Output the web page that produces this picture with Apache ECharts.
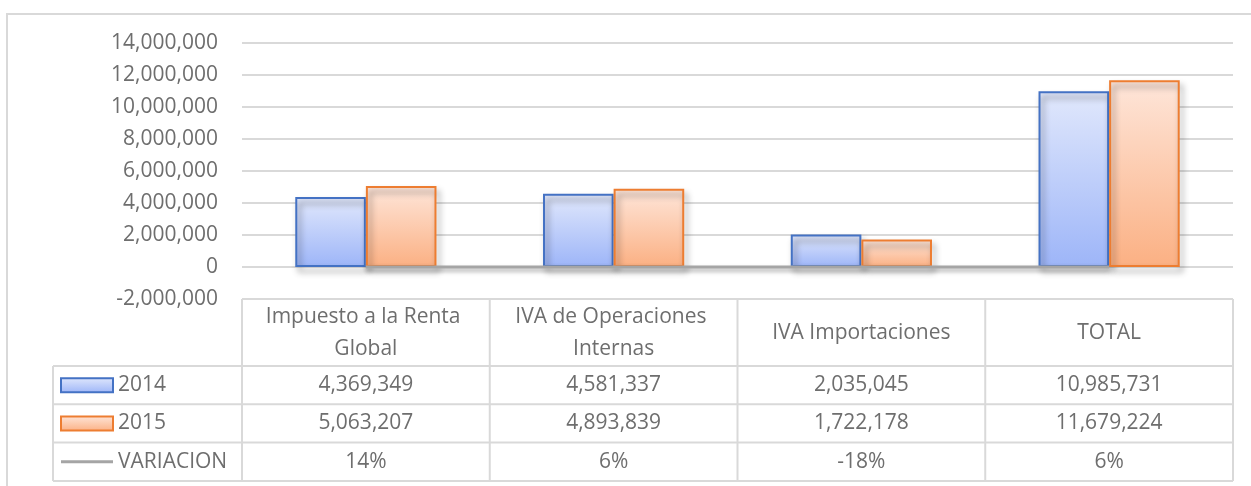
<!DOCTYPE html>
<html>
<head>
<meta charset="utf-8">
<script src="https://cdn.jsdelivr.net/npm/echarts@6/dist/echarts.min.js"></script>
<style>
  html, body { margin: 0; padding: 0; background: #fff; }
  #main { width: 1251px; height: 486px; }
</style>
</head>
<body>
<div id="main"></div>
<script>
var categories = ['Impuesto a la Renta Global', 'IVA de Operaciones Internas', 'IVA Importaciones', 'TOTAL']
var seriesNames = ['2014', '2015', 'VARIACION']
var data2014 = [4369349, 4581337, 2035045, 10985731]
var data2015 = [5063207, 4893839, 1722178, 11679224]
var variacion = [0.14, 0.06, -0.18, 0.06]

var FONT = 'Open Sans'
var TXT = '#6e6e6e'
var LINE = '#d9d9d9'

function fmt(v) {
  return v.toLocaleString('en-US')
}
function pct(v) {
  return Math.round(v * 100) + '%'
}
function grad(top, bottom) {
  return new echarts.graphic.LinearGradient(0, 0, 0, 1, [
    { offset: 0, color: top },
    { offset: 1, color: bottom }
  ])
}

var blueFill = grad('#e1e8fc', '#9db5f8')
var orangeFill = grad('#fee6da', '#fbb083')

var myChart = echarts.init(document.getElementById('main'))
var option = {
  animation: false,
  textStyle: { fontFamily: FONT },
  grid: { left: 242, right: 18, top: 43, bottom: 187 },
  xAxis: {
    type: 'category',
    data: categories,
    axisLine: { show: false },
    axisTick: { show: false },
    axisLabel: { show: false }
  },
  yAxis: {
    type: 'value',
    min: -2000000,
    max: 14000000,
    interval: 2000000,
    axisLine: { show: false },
    axisTick: { show: false },
    axisLabel: {
      color: TXT,
      fontSize: 21,
      fontFamily: FONT,
      margin: 24,
      formatter: function (v) { return fmt(v) }
    },
    splitLine: { lineStyle: { color: LINE, width: 2 } }
  },
  series: [
    {
      name: seriesNames[0],
      type: 'bar',
      data: data2014,
      barGap: 0,
      barCategoryGap: '43%',
      itemStyle: {
        color: blueFill,
        borderColor: '#4472c4',
        borderWidth: 2,
        shadowColor: 'rgba(0,0,0,0.45)',
        shadowBlur: 6,
        shadowOffsetX: 3,
        shadowOffsetY: 5
      }
    },
    {
      name: seriesNames[1],
      type: 'bar',
      data: data2015,
      itemStyle: {
        color: orangeFill,
        borderColor: '#ed7d31',
        borderWidth: 2,
        shadowColor: 'rgba(0,0,0,0.45)',
        shadowBlur: 6,
        shadowOffsetX: 3,
        shadowOffsetY: 5
      }
    },
    {
      name: seriesNames[2],
      type: 'line',
      data: variacion,
      z: 5,
      symbol: 'none',
      lineStyle: {
        color: '#a5a5a5',
        width: 3,
        shadowColor: 'rgba(0,0,0,0.35)',
        shadowBlur: 4,
        shadowOffsetY: 3
      }
    }
  ]
}
myChart.setOption(option)

// data table under the plot, laid out from the axes
var c0 = myChart.convertToPixel({ xAxisIndex: 0 }, 0)
var c1 = myChart.convertToPixel({ xAxisIndex: 0 }, 1)
var cellW = c1 - c0
var tableLeft = c0 - cellW / 2
var tableRight = tableLeft + cellW * categories.length
var tableTop = myChart.convertToPixel({ yAxisIndex: 0 }, -2000000)
var headerH = 67
var rowH = 38.3
var labelLeft = 53

var g = []
function hline(x1, x2, y) {
  g.push({ type: 'line', shape: { x1: x1, y1: y, x2: x2, y2: y }, style: { stroke: LINE, lineWidth: 2 }, silent: true })
}
function vline(x, y1, y2) {
  g.push({ type: 'line', shape: { x1: x, y1: y1, x2: x, y2: y2 }, style: { stroke: LINE, lineWidth: 2 }, silent: true })
}
function text(str, x, y, align, extra) {
  var st = {
    text: str, x: x, y: y, fill: TXT, font: '21px "' + FONT + '"',
    align: align || 'center', verticalAlign: 'middle'
  }
  if (extra) for (var k in extra) st[k] = extra[k]
  g.push({ type: 'text', style: st, silent: true })
}

var rowsTop = tableTop + headerH
var bottom = rowsTop + rowH * 3

// outer chart border
g.push({ type: 'rect', shape: { x: 7, y: 14, width: 1250, height: 480 }, style: { fill: null, stroke: LINE, lineWidth: 2 }, silent: true })

// header row
hline(tableLeft, tableRight, tableTop)
for (var i = 0; i <= categories.length; i++) {
  vline(tableLeft + cellW * i, tableTop, bottom)
}
vline(labelLeft, rowsTop, bottom)
for (var r = 0; r <= 3; r++) {
  hline(labelLeft, tableRight, rowsTop + rowH * r)
}
categories.forEach(function (c, i) {
  text(c, tableLeft + cellW * (i + 0.5), tableTop + headerH / 2 + 1, 'center', {
    width: 215, overflow: 'break', lineHeight: 32
  })
})

var rows = [data2014.map(fmt), data2015.map(fmt), variacion.map(pct)]
rows.forEach(function (vals, r) {
  var cy = rowsTop + rowH * (r + 0.5)
  vals.forEach(function (v, i) {
    text(v, tableLeft + cellW * (i + 0.5), cy)
  })
  text(seriesNames[r], 118, cy, 'left')
  if (r < 2) {
    g.push({
      type: 'rect',
      shape: { x: 61, y: cy - 7, width: 52, height: 14 },
      style: { fill: r === 0 ? blueFill : orangeFill, stroke: r === 0 ? '#4472c4' : '#ed7d31', lineWidth: 2 },
      silent: true
    })
  } else {
    g.push({ type: 'line', shape: { x1: 61, y1: cy, x2: 113, y2: cy }, style: { stroke: '#a5a5a5', lineWidth: 3 }, silent: true })
  }
})

myChart.setOption({ graphic: g })
</script>
</body>
</html>
